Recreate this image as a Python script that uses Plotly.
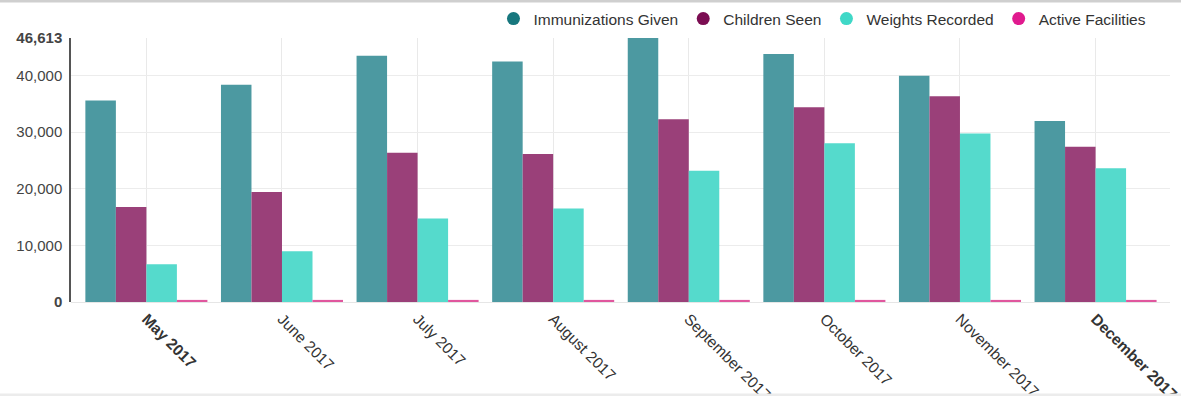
import plotly.graph_objects as go

# Monthly program totals
months = ["May 2017", "June 2017", "July 2017", "August 2017", "September 2017",
          "October 2017", "November 2017", "December 2017"]
immunizations_given = [35570, 38350, 43490, 42480, 46613, 43790, 39950, 31980]
children_seen = [16760, 19420, 26370, 26140, 32280, 34400, 36350, 27430]
weights_recorded = [6670, 8970, 14760, 16530, 23190, 28030, 29730, 23610]
active_facilities = [370, 370, 370, 370, 370, 370, 370, 370]

series_names = ["Immunizations Given", "Children Seen", "Weights Recorded", "Active Facilities"]
bar_colors = ["#4c99a1", "#9a4079", "#55dacc", "#e0579e"]
legend_colors = ["#17777e", "#7b0d52", "#3fd8c7", "#e01a8e"]

y_tickvals = [0, 10000, 20000, 30000, 40000, 46613]
y_ticktext = ["<b>0</b>", "10,000", "20,000", "30,000", "40,000", "<b>46,613</b>"]
x_ticktext = ["<b>May 2017</b>", "June 2017", "July 2017", "August 2017", "September 2017",
              "October 2017", "November 2017", "<b>December 2017</b>"]

FONT = "Liberation Sans, Arial, Helvetica, sans-serif"

fig = go.Figure()
all_values = [immunizations_given, children_seen, weights_recorded, active_facilities]
for name, vals, col in zip(series_names, all_values, bar_colors):
    fig.add_trace(go.Bar(
        x=list(range(len(months))), y=vals, name=name,
        marker=dict(color=col, line=dict(width=0)),
        legendgroup=name, showlegend=False,
    ))

# Round legend markers
for name, col in zip(series_names, legend_colors):
    fig.add_trace(go.Scatter(
        x=[None], y=[None], mode="markers", name=name, legendgroup=name,
        marker=dict(symbol="circle", size=13, color=col),
    ))

fig.update_layout(
    width=1181, height=396,
    margin=dict(l=71, r=11, t=38, b=94, pad=0, autoexpand=False),
    paper_bgcolor="white", plot_bgcolor="white",
    font=dict(family=FONT, color="#333333"),
    barmode="group", bargap=0.1, bargroupgap=0,
    showlegend=True,
    legend=dict(
        orientation="h", xref="container", x=0.975, xanchor="right",
        yref="container", y=0.952, yanchor="middle",
        font=dict(size=15.5, color="#333333", family=FONT),
        bgcolor="rgba(0,0,0,0)", itemsizing="trace", traceorder="normal",
    ),
    xaxis=dict(
        range=[-0.556, 7.549], automargin=False,
        tickmode="array", tickvals=list(range(len(months))), ticktext=x_ticktext,
        tickangle=45, tickfont=dict(size=15.5, color="#333333"),
        showgrid=True, gridcolor="#e9e9e9", gridwidth=1,
        showline=False, zeroline=False, ticks="", ticklabelstandoff=4,
    ),
    yaxis=dict(
        range=[0, 46613], automargin=False,
        tickmode="array", tickvals=y_tickvals, ticktext=y_ticktext,
        tickfont=dict(size=15, color="#444444"),
        showgrid=True, gridcolor="#ececec", gridwidth=1,
        showline=True, linecolor="#555555", linewidth=1.5,
        zeroline=True, zerolinecolor="#e6e6e6", zerolinewidth=1,
        ticks="", ticklabelstandoff=4,
    ),
)

# Frame edges of the panel
fig.add_shape(type="line", xref="paper", yref="paper", x0=-0.07, x1=1.02,
              y0=1.1397, y1=1.1397, line=dict(color="#cfcfcf", width=3))
fig.add_shape(type="line", xref="paper", yref="paper", x0=-0.07, x1=1.02,
              y0=-0.352, y1=-0.352, line=dict(color="#ececec", width=3))

fig.write_html("out.html")
